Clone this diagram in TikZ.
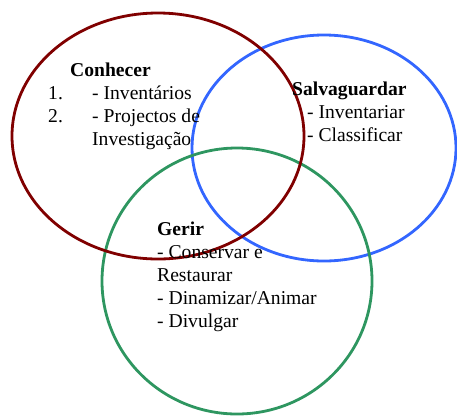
\documentclass[tikz,border=0pt]{standalone}
\usepackage{fontspec}
\setmainfont{Liberation Serif}
\usepackage{tikz}

\definecolor{conhecerred}{RGB}{128,0,0}
\definecolor{salvablue}{RGB}{51,102,255}
\definecolor{gerirgreen}{RGB}{46,150,96}

\tikzset{
  ring/.style={line width=2.8pt},
  txt/.style={anchor=base west, inner sep=0pt, align=left,
    font=\fontsize{19.6}{23.2}\selectfont},
}

\begin{document}
\begin{tikzpicture}[x=1pt, y=-1pt]
  \useasboundingbox (0, 0) rectangle (457, 416);
  \def\lh{23.2}
  \draw[ring, salvablue] (324, 148) ellipse[x radius=132, y radius=113];
  \draw[ring, gerirgreen] (237, 281) ellipse[x radius=135, y radius=133];
  \draw[ring, conhecerred] (158, 136) ellipse[x radius=146, y radius=123];

  % base anchor of a multi-line node sits on its last line
  \node[txt] (conhecer) at (70, 76) {\textbf{Conhecer}};
  \node[txt] (num1) at (48, 99) {1.};
  \node[txt] (num2) at (48, 99+\lh) {2.};
  \node[txt] (conhecerlist) at (92, 99+2*\lh) {- Inventários\\- Projectos de\\Investigação};

  \node[txt] (salvaguardar) at (292, 95+2*\lh) {\textbf{Salvaguardar}\\
    \hspace*{15pt}- Inventariar\\\hspace*{15pt}- Classificar};

  \node[txt] (gerir) at (157, 235+4*\lh) {\textbf{Gerir}\\- Conservar e\\Restaurar\\
    - Dinamizar/Animar\\- Divulgar};
\end{tikzpicture}
\end{document}
